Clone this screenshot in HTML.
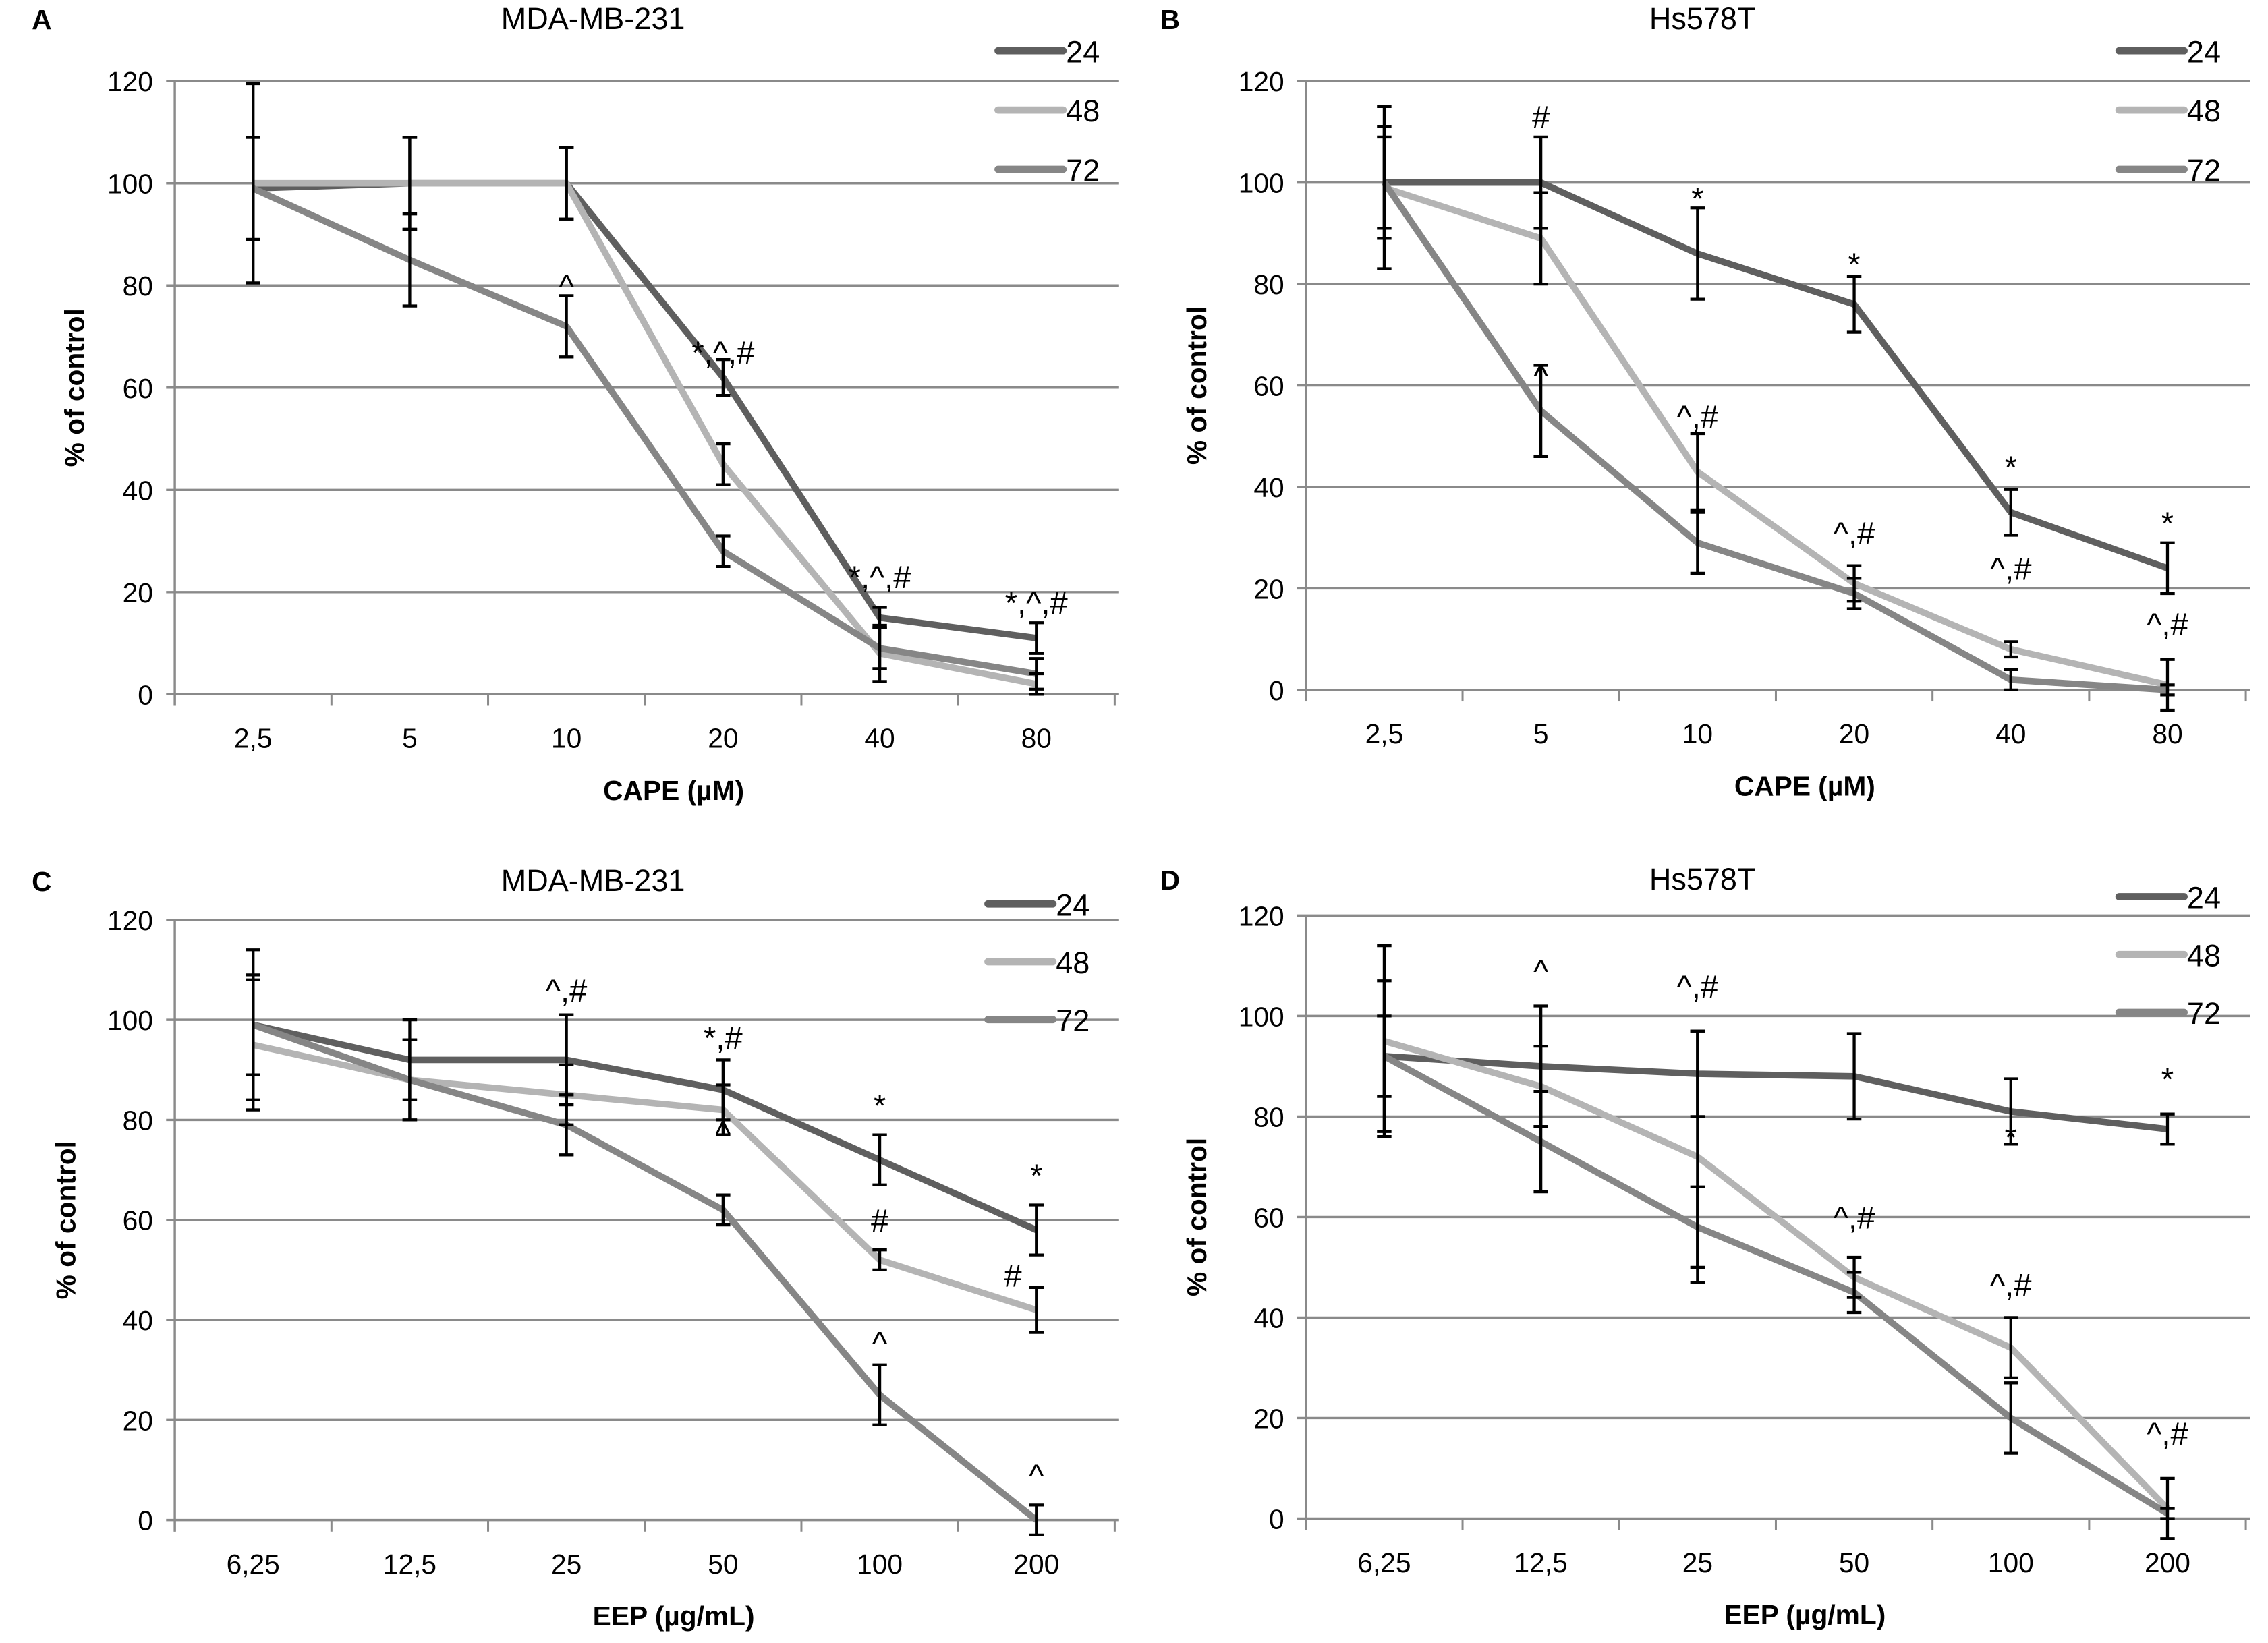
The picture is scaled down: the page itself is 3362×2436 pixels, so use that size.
<!DOCTYPE html>
<html><head><meta charset="utf-8"><style>
html,body{margin:0;padding:0;background:#fff}
svg{display:block}
text{font-family:"Liberation Sans Narrow","Liberation Sans",sans-serif;fill:#000}
</style></head><body>
<svg id="fig" xmlns="http://www.w3.org/2000/svg" width="3362" height="2436" viewBox="0 0 1568 1136"></svg>
<script>
const NS="http://www.w3.org/2000/svg";
const svg=document.getElementById('fig');
const seriesNames=['24','48','72'];
const seriesColors=['#5f5f5f','#b4b4b4','#868686'];
const yTicks=[0,20,40,60,80,100,120];

const catsA=['2,5','5','10','20','40','80'];
const a24=[99,100,100,62,15,11], a48=[100,100,100,45,8,2], a72=[99,85,72,28,9,4];
const ea24=[10,9,7,3.5,2,3], ea48=[19.5,9,7,4,5.5,2], ea72=[10,9,6,3,4,3];
const annA=[[2,'^',80],[3,'*,^,#',67],[4,'*,^,#',23],[5,'*,^,#',18]];

const catsB=['2,5','5','10','20','40','80'];
const b24=[100,100,86,76,35,24], b48=[99,89,43,21,8,1], b72=[100,55,29,19,2,0];
const eb24=[9,9,9,5.5,4.5,5], eb48=[16,9,7.5,3.5,1.5,5], eb72=[11,9,6,3,2,1];
const annB=[[1,'#',113],[2,'*',97],[3,'*',84],[4,'*',44],[5,'*',33],[1,'^',62],[2,'^,#',54],[3,'^,#',31],[4,'^,#',24],[5,'^,#',13]];

const catsC=['6,25','12,5','25','50','100','200'];
const c24=[99,92,92,86,72,58], c48=[95,88,85,82,52,42], c72=[99,88,79,62,25,0];
const ec24=[15,8,9,6,5,5], ec48=[13,8,6,5,2,4.5], ec72=[10,8,6,3,6,3];
const annC=[[2,'^,#',106],[3,'*,#',96.5],[4,'*',83],[3,'^',77.5],[4,'#',60],[5,'*',69],[4.85,'#',49],[4,'^',35.5],[5,'^',9]];

const catsD=['6,25','12,5','25','50','100','200'];
const d24=[92,90,88.5,88,81,77.5], d48=[95,86,72,48,34,2], d72=[92,75,58,45,20,1];
const ed24=[8,12,8.5,8.5,6.5,3], ed48=[19,8,25,4,6,6], ed72=[15,10,8,4,7,1];
const annD=[[1,'^',109],[2,'^,#',106],[3,'^,#',60],[4,'*',76],[5,'*',87.5],[4,'^,#',46.6],[5,'^,#',17]];

function el(tag,attrs,parent,txt){const e=document.createElementNS(NS,tag);for(const k in attrs)e.setAttribute(k,attrs[k]);if(txt!==undefined)e.textContent=txt;(parent||svg).appendChild(e);return e;}

function panel(o){
  const g=el('g',{});
  
  
  const step=108.3, left=o.x0-step/2, right=left+6*step;
  const X=i=>o.x0+i*step;
  const Y=v=>o.y0-(o.y0-o.y120)*v/120;
  const t=el('text',{x:o.letterX,y:o.titleY,'font-size':19,'font-weight':'bold'},g,o.letter);
  
  const ti=el('text',{x:o.titleX,y:o.titleY,'font-size':21,'text-anchor':'middle'},g,o.title);
  
  yTicks.forEach(v=>{
    const gl=el('line',{x1:left-6,x2:right+3,y1:Y(v),y2:Y(v),stroke:'#8a8a8a','stroke-width':1.6},g);
    
    const tl=el('text',{x:left-15,y:Y(v)+7,'font-size':19,'text-anchor':'end'},g,String(v));
    
  });
  el('line',{x1:left,x2:left,y1:Y(120),y2:Y(0)+8,stroke:'#8a8a8a','stroke-width':1.6},g);
  for(let i=0;i<=6;i++)el('line',{x1:left+i*step,x2:left+i*step,y1:Y(0),y2:Y(0)+8,stroke:'#8a8a8a','stroke-width':1.4},g);
  o.cats.forEach((c,i)=>{const tl=el('text',{x:X(i),y:o.y0+37,'font-size':19,'text-anchor':'middle'},g,c);
    });
  const yt=el('text',{x:0,y:0,'font-size':19,'font-weight':'bold','text-anchor':'middle',transform:`translate(${o.ytX},${(Y(0)+Y(120))/2}) rotate(-90)`},g,'% of control');
  
  const xt=el('text',{x:o.x0+2.5*step+20,y:o.y0+73,'font-size':19,'font-weight':'bold','text-anchor':'middle'},g,o.xtitle);
  
  o.series.forEach((s,k)=>{
    const p=el('polyline',{points:s.map((v,i)=>X(i)+','+Y(v)).join(' '),fill:'none',stroke:seriesColors[k],'stroke-width':4.5,'stroke-linejoin':'round'},g);
    
  });
  o.series.forEach((s,k)=>{
    s.forEach((v,i)=>{
      const e=o.errs[k][i];
      const eb=el('path',{d:`M${X(i)} ${Y(v-e)}V${Y(v+e)}M${X(i)-5} ${Y(v-e)}h10M${X(i)-5} ${Y(v+e)}h10`,stroke:'#000','stroke-width':2,fill:'none'},g);
      
    });
  });
  o.ann.forEach(a=>{const at=el('text',{x:X(a[0]),y:Y(a[2])+8,'font-size':22,'text-anchor':'middle'},g,a[1]);
    });
  seriesNames.forEach((n,k)=>{
    const ly=o.legY+k*o.legGap;
    const l=el('line',{x1:o.legX,x2:o.legX+45,y1:ly,y2:ly,stroke:seriesColors[k],'stroke-width':5,'stroke-linecap':'round'},g);
    
    const lt=el('text',{x:o.legX+47,y:ly+8,'font-size':21},g,n);
    
  });
}
panel({letter:'A',letterX:22,title:'MDA-MB-231',titleX:410,titleY:20,x0:175,y0:480,y120:56,cats:catsA,xtitle:'CAPE (µM)',ytX:58,
  series:[a24,a48,a72],errs:[ea24,ea48,ea72],ann:annA,legX:690,legY:35,legGap:41});
panel({letter:'B',letterX:802,title:'Hs578T',titleX:1177,titleY:20,x0:957,y0:477,y120:56,cats:catsB,xtitle:'CAPE (µM)',ytX:834,
  series:[b24,b48,b72],errs:[eb24,eb48,eb72],ann:annB,legX:1465,legY:35,legGap:41});
panel({letter:'C',letterX:22,title:'MDA-MB-231',titleX:410,titleY:616,x0:175,y0:1051,y120:636,cats:catsC,xtitle:'EEP (µg/mL)',ytX:52,
  series:[c24,c48,c72],errs:[ec24,ec48,ec72],ann:annC,legX:683,legY:625,legGap:40});
panel({letter:'D',letterX:802,title:'Hs578T',titleX:1177,titleY:615,x0:957,y0:1050,y120:633,cats:catsD,xtitle:'EEP (µg/mL)',ytX:834,
  series:[d24,d48,d72],errs:[ed24,ed48,ed72],ann:annD,legX:1465,legY:620,legGap:40});
</script>
</body></html>
